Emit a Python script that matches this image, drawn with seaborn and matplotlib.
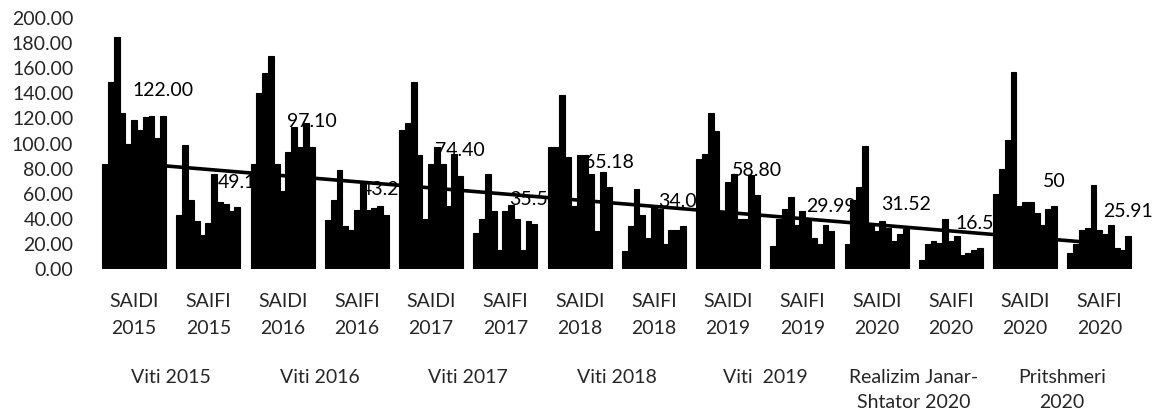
#%% -------------------------------------------------------------------------
# Importing Libraries
#----------------------------------------------------------------------------

import numpy as np
import pandas as pd
import matplotlib
matplotlib.use("Agg")
import matplotlib.pyplot as plt
import matplotlib.transforms as mtransforms
import seaborn as sns


#%% -------------------------------------------------------------------------
# Data (11 bars per category, last bar = labelled value)
#----------------------------------------------------------------------------

categories = ["SAIDI\n2015", "SAIFI\n2015", "SAIDI\n2016", "SAIFI\n2016",
              "SAIDI\n2017", "SAIFI\n2017", "SAIDI\n2018", "SAIFI\n2018",
              "SAIDI\n2019", "SAIFI\n2019", "SAIDI\n2020", "SAIFI\n2020",
              "SAIDI\n2020", "SAIFI\n2020"]

group_labels = ["Viti 2015", "Viti 2016", "Viti 2017", "Viti 2018",
                "Viti  2019", "Realizim Janar-\nShtator 2020", "Pritshmeri\n2020"]

saidi_2015 = [84, 149, 185, 124, 100, 119, 111, 121, 122, 104, 122.00]
saifi_2015 = [43, 99, 55, 38, 27, 37, 76, 53, 52, 46, 49.10]
saidi_2016 = [84, 140, 156, 170, 84, 62, 93, 113, 97, 116, 97.10]
saifi_2016 = [39, 55, 79, 34, 31, 47, 69, 47, 49, 50, 43.20]
saidi_2017 = [111, 116, 149, 91, 40, 84, 97, 84, 50, 92, 74.40]
saifi_2017 = [29, 40, 76, 46, 15, 46, 51, 40, 15, 38, 35.50]
saidi_2018 = [97, 97, 139, 89, 50, 91, 91, 76, 30, 77, 65.18]
saifi_2018 = [14, 34, 64, 43, 25, 50, 48, 20, 31, 31, 34.07]
saidi_2019 = [88, 92, 124, 110, 45, 69, 76, 40, 40, 75, 58.80]
saifi_2019 = [18, 40, 48, 57, 35, 46, 40, 25, 20, 35, 29.99]
saidi_2020_real = [20, 55, 65, 98, 35, 30, 38, 33, 22, 28, 31.52]
saifi_2020_real = [7, 20, 22, 21, 40, 22, 26, 11, 13, 15, 16.54]
saidi_2020_plan = [60, 80, 103, 157, 50, 53, 53, 45, 35, 48, 50]
saifi_2020_plan = [13, 20, 31, 33, 67, 31, 28, 35, 17, 15, 25.91]

label_text = ["122.00", "49.1", "97.10", "43.20", "74.40", "35.50", "65.18",
              "34.07", "58.80", "29.99", "31.52", "16.54", "50", "25.91"]

all_values = [saidi_2015, saifi_2015, saidi_2016, saifi_2016, saidi_2017,
              saifi_2017, saidi_2018, saifi_2018, saidi_2019, saifi_2019,
              saidi_2020_real, saifi_2020_real, saidi_2020_plan, saifi_2020_plan]

# long-form table for seaborn
rows = []
for i, vals in enumerate(all_values):
    for j, v in enumerate(vals):
        rows.append({"cat": i, "series": j, "value": v})
df = pd.DataFrame(rows)
n_series = len(saidi_2015)

# values carried by the labelled (last) bar of each category
labelled = [vals[-1] for vals in all_values]


#%% -------------------------------------------------------------------------
# Plot
#----------------------------------------------------------------------------

sns.set_style("white")
plt.rcParams["font.family"] = ["Lato", "DejaVu Sans"]
plt.rcParams["font.size"] = 14

fig = plt.figure(figsize=(11.68, 4.2), dpi=100)
ax = fig.add_axes([0.083, 0.3595, 0.890, 0.5976])

# solid black clusters (edge drawn in black so the bars touch)
sns.barplot(data=df, x="cat", y="value", hue="series",
            palette=["black"] * n_series, width=0.86, gap=0,
            saturation=1, legend=False, ax=ax, errorbar=None,
            edgecolor="black", linewidth=0.8)

# data labels on the last bar of every cluster
ax.bar_label(ax.containers[-1], labels=label_text, padding=12,
             fontsize=14, color="black")

# linear trendline of the labelled series
sns.regplot(x=np.arange(len(labelled)), y=np.array(labelled), scatter=False,
            ci=None, color="black", line_kws={"linewidth": 2.6}, ax=ax,
            truncate=True)

ax.set_xlim(-0.5, len(categories) - 0.5)
ax.set_ylim(0, 200)
ax.set_yticks(np.arange(0, 201, 20))
ax.set_yticklabels([f"{t:.2f}" for t in np.arange(0, 201, 20)])
ax.set_xticks(range(len(categories)))
ax.set_xticklabels(categories, linespacing=1.75)
ax.set_xlabel("")
ax.set_ylabel("")
ax.tick_params(axis="x", length=0, pad=17, labelsize=14)
ax.tick_params(axis="y", length=0, pad=17, labelsize=14)
for s in ax.spines.values():
    s.set_visible(False)

# group labels under each pair of categories
trans = mtransforms.blended_transform_factory(ax.transData, fig.transFigure)
for k, g in enumerate(group_labels):
    ax.text(2 * k + 0.5, 0.122, g, transform=trans, ha="center", va="top",
            fontsize=14, linespacing=1.6)

fig.savefig("out.png", dpi=100)
